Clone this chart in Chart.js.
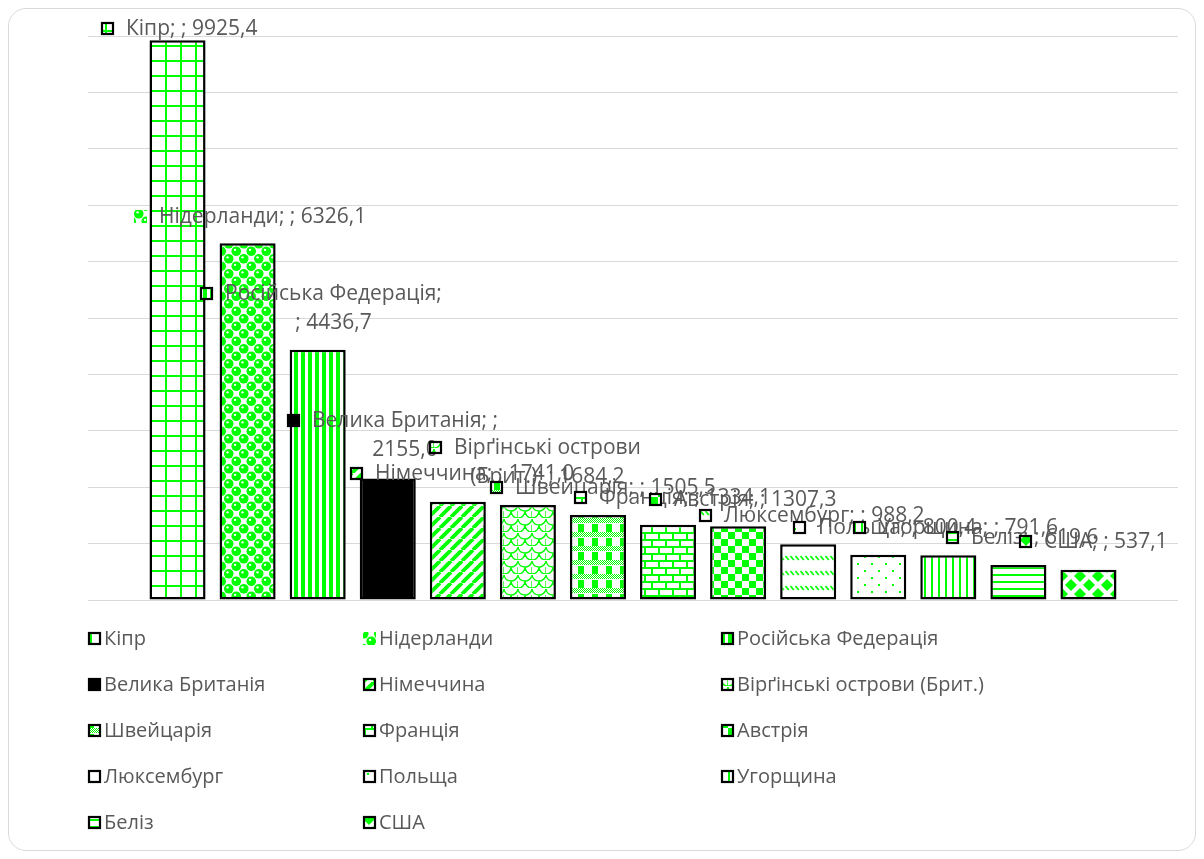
<!DOCTYPE html>
<html>
<head>
<meta charset="utf-8">
<script src="https://cdn.jsdelivr.net/npm/chart.js@4/dist/chart.umd.min.js"></script>
<style>
  html, body { margin: 0; padding: 0; background: #fff; }
  #wrap { position: relative; width: 1204px; height: 859px; }
  #frame { position: absolute; left: 8px; top: 8px; width: 1186px; height: 841px;
           border: 1px solid #d9d9d9; border-radius: 18px; pointer-events: none; }
</style>
</head>
<body>
<div id="wrap">
  <canvas id="chart"></canvas>
  <div id="frame"></div>
</div>
<script>
/* ---- data ---- */
const countries = ['Кіпр', 'Нідерланди', 'Російська Федерація', 'Велика Британія', 'Німеччина',
  'Вірґінські острови (Брит.)', 'Швейцарія', 'Франція', 'Австрія', 'Люксембург',
  'Польща', 'Угорщина', 'Беліз', 'США'];
const values = [9925.4, 6326.1, 4436.7, 2155.0, 1741.0, 1684.2, 1505.5, 1334.1, 1307.3, 988.2,
  800.4, 791.6, 619.6, 537.1];
const yMax = 10000;
const yStep = 1000;

/* labels that wrap onto two lines in the original */
const wrapped = {
  2: (n, v) => [n + ';', '; ' + v],
  3: (n, v) => [n + '; ;', v],
  5: (n, v) => ['Вірґінські острови', '(Брит.); ; ' + v]
};
/* where each data label key sits, relative to the top centre of its bar */
const labelOffsets = [[-77, -18], [-114, -33], [-118, -63], [-101, -64], [-108, -35], [-99, -64],
  [-108, -34], [-94, -34], [-89, -33], [-109, -35], [-85, -34], [-95, -34], [-72, -34], [-69, -35]];

const GREEN = '#00ff00', TEXT = '#595959', FONT = '"Open Sans", "DejaVu Sans", sans-serif';

/* ---- Excel-like pattern fills ---- */
function tile(w, h, draw) {
  const c = document.createElement('canvas');
  c.width = w; c.height = h;
  const g = c.getContext('2d');
  g.fillStyle = '#fff'; g.fillRect(0, 0, w, h);
  g.fillStyle = GREEN; g.strokeStyle = GREEN;
  draw(g, w, h);
  return g.createPattern(c, 'repeat');
}
function diamond(g, cx, cy, r) {
  g.beginPath(); g.moveTo(cx, cy - r); g.lineTo(cx + r, cy); g.lineTo(cx, cy + r); g.lineTo(cx - r, cy); g.closePath(); g.fill();
}
const fills = [
  tile(15, 15, g => { g.fillRect(0, 0, 15, 2); g.fillRect(0, 0, 2, 15); }),                 // large grid
  tile(15, 15, g => {                                                                        // spheres
    for (const ox of [-15, 0, 15]) for (const oy of [-15, 0, 15]) for (const [cx, cy] of [[3.75, 3.75], [11.25, 11.25]]) {
      g.fillStyle = GREEN; g.beginPath(); g.arc(cx + ox, cy + oy, 4.8, 0, Math.PI * 2); g.fill();
    }
    for (const ox of [-15, 0, 15]) for (const oy of [-15, 0, 15]) for (const [cx, cy] of [[3.75, 3.75], [11.25, 11.25]]) {
      g.fillStyle = '#fff'; g.beginPath(); g.arc(cx + ox - 1.2, cy + oy - 1.4, 1.2, 0, Math.PI * 2); g.fill();
    }
  }),
  tile(7, 1, g => g.fillRect(0, 0, 4, 1)),                                                   // dark vertical
  '#000000',                                                                                 // solid
  tile(11, 11, g => {                                                                        // wide upward diagonal
    g.lineWidth = 3.8; g.beginPath();
    for (const k of [-1, 0, 1]) { g.moveTo(k * 11, 11); g.lineTo(k * 11 + 11, 0); }
    g.stroke();
  }),
  tile(14, 14, g => {                                                                        // shingle
    g.lineWidth = 1.3; g.beginPath();
    g.arc(7, 0, 7, 0.15, Math.PI - 0.15);
    g.moveTo(14, 7); g.arc(14, 7, 7, Math.PI / 2, Math.PI);
    g.moveTo(0, 14); g.arc(0, 7, 7, Math.PI / 2, 0, true);
    g.stroke();
  }),
  tile(14, 14, g => {                                                                        // plaid
    for (let y = 0; y < 5; y++) for (let x = 0; x < 14; x++) if ((x + y) % 2 === 0) g.fillRect(x, y, 1, 1);
    g.fillRect(4, 6, 6, 8);
  }),
  tile(14, 14, g => { g.fillRect(0, 0, 14, 2); g.fillRect(0, 7, 14, 2); g.fillRect(0, 0, 2, 7); g.fillRect(7, 7, 2, 7); }), // brick
  tile(14, 14, g => { g.fillRect(0, 0, 7, 7); g.fillRect(7, 7, 7, 7); }),                    // large checker
  tile(5, 15, g => { g.lineWidth = 1.6; g.beginPath(); g.moveTo(0.5, 1); g.lineTo(3.8, 5); g.stroke(); }), // dashed diagonal
  tile(14, 14, g => { g.fillRect(3, 3, 2, 2); g.fillRect(10, 10, 2, 2); }),                  // dotted
  tile(7, 1, g => g.fillRect(0, 0, 2, 1)),                                                   // light vertical
  tile(1, 7, g => g.fillRect(0, 0, 1, 2)),                                                   // light horizontal
  tile(18, 18, g => { diamond(g, 9, 9, 6); for (const [x, y] of [[0, 0], [18, 0], [0, 18], [18, 18]]) diamond(g, x, y, 6); }) // diamonds
];
const noBorderKey = [1];

const fmt = v => v.toFixed(1).replace('.', ',');

function drawKey(ctx, i, x, y, s) {
  ctx.save();
  ctx.fillStyle = fills[i];
  ctx.fillRect(x, y, s, s);
  if (noBorderKey.indexOf(i) < 0) {
    ctx.strokeStyle = '#000'; ctx.lineWidth = 2.2;
    ctx.strokeRect(x + 1, y + 1, s - 2, s - 2);
  }
  ctx.restore();
}

/* data labels: key + "name; ; value", dragged beside each bar */
const dataLabels = {
  id: 'dataLabels',
  afterDatasetsDraw(chart) {
    const { ctx } = chart;
    ctx.save();
    ctx.font = '21px ' + FONT; ctx.fillStyle = TEXT; ctx.textBaseline = 'middle';
    chart.data.datasets.forEach((ds, i) => {
      const bar = chart.getDatasetMeta(i).data[0];
      const kx = Math.round(bar.x + labelOffsets[i][0]), ky = Math.round(bar.y + labelOffsets[i][1]);
      drawKey(ctx, i, kx, ky, 13);
      const v = fmt(ds.data[0]);
      const lines = wrapped[i] ? wrapped[i](countries[i], v) : [countries[i] + '; ; ' + v];
      const tx = kx + 13 + 12, ty = ky + 7.5;
      ctx.fillStyle = TEXT;
      ctx.textAlign = 'left';
      ctx.fillText(lines[0], tx, ty);
      if (lines.length > 1) {
        const cx = tx + ctx.measureText(lines[0]).width / 2;
        ctx.textAlign = 'center';
        for (let l = 1; l < lines.length; l++) ctx.fillText(lines[l], cx, ty + 29 * l);
      }
    });
    ctx.restore();
  }
};

/* legend: three columns under the plot */
const legendCols = [88, 363, 721];
const legendRows = [638, 684, 730, 776, 822];
const gridLegend = {
  id: 'gridLegend',
  afterDraw(chart) {
    const { ctx } = chart;
    ctx.save();
    ctx.font = '20px ' + FONT; ctx.textBaseline = 'middle'; ctx.textAlign = 'left';
    countries.forEach((name, i) => {
      const x = legendCols[i % 3], y = legendRows[Math.floor(i / 3)];
      drawKey(ctx, i, x, y - 6, 13);
      ctx.fillStyle = TEXT;
      ctx.fillText(name, x + 16, y + 1);
    });
    ctx.restore();
  }
};

new Chart(document.getElementById('chart'), {
  type: 'bar',
  data: {
    labels: [''],
    datasets: countries.map((name, i) => ({
      label: name, data: [values[i]], backgroundColor: fills[i],
      borderColor: '#000', borderWidth: 2.5, borderSkipped: false
    }))
  },
  options: {
    responsive: true, maintainAspectRatio: false, animation: false,
    layout: { padding: { left: 88, right: 26, top: 36, bottom: 259 } },
    datasets: { bar: { barPercentage: 0.8, categoryPercentage: 0.9 } },
    plugins: { legend: { display: false }, tooltip: { enabled: false } },
    scales: {
      x: { display: false },
      y: {
        min: 0, max: yMax, afterFit: s => { s.width = 0; },
        ticks: { display: false, stepSize: yStep },
        border: { display: false },
        grid: { color: '#d9d9d9', lineWidth: 1, drawTicks: false }
      }
    }
  },
  plugins: [dataLabels, gridLegend]
});
</script>
</body>
</html>
